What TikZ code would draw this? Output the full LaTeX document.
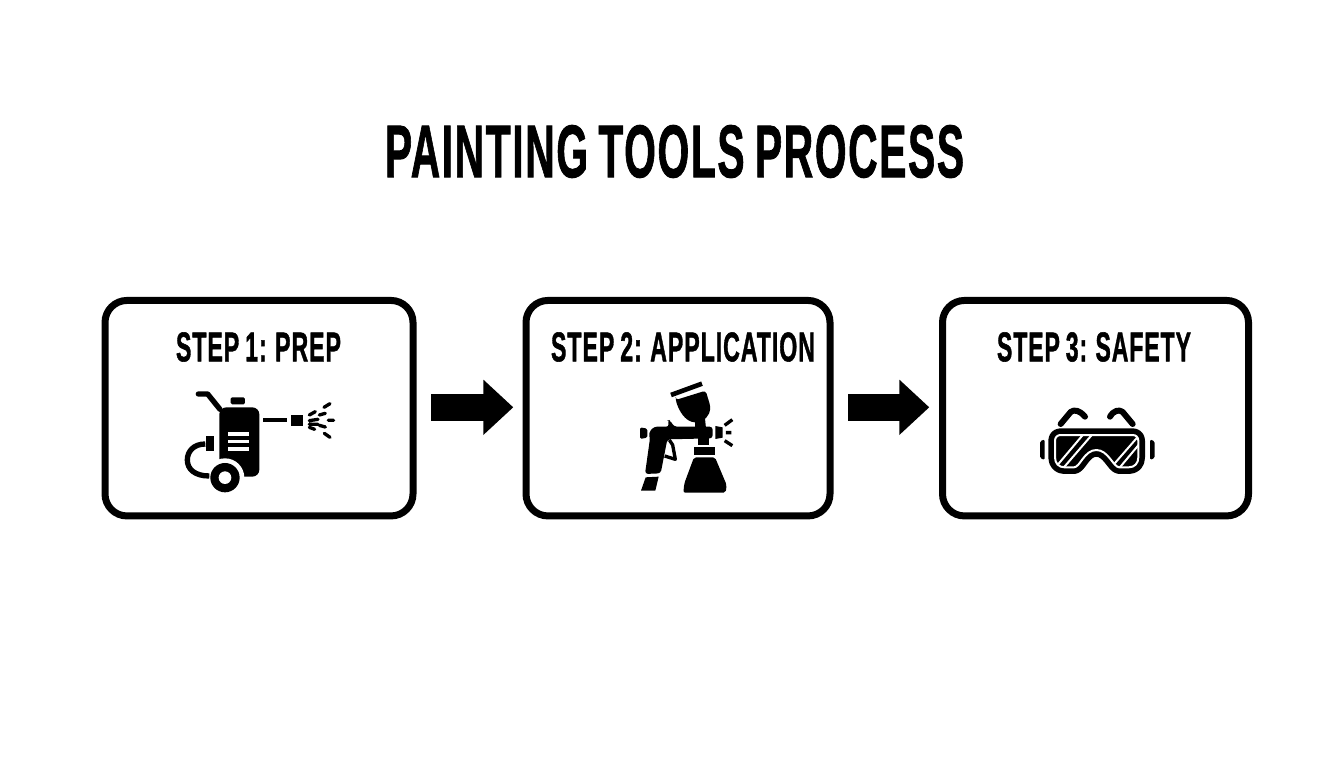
\documentclass[tikz,border=0pt]{standalone}
\usepackage{fontspec}
\usepackage{graphicx}
\setmainfont{Liberation Sans}[BoldFont={Liberation Sans Bold},BoldFeatures={FakeBold=1.4,LetterSpace=4,WordSpace=0.8}]
\usetikzlibrary{arrows.meta,calc}
\tikzset{
  stepbox/.style={draw=black,line width=7pt,rounded corners=22pt,fill=white,inner sep=0pt,outer sep=0pt},
  flowarrow/.style={line width=26.7pt,black,-{Triangle[length=30pt,width=53.5pt]}},
  txt/.style={inner sep=0pt,outer sep=0pt,font=\bfseries},
  ico/.style={x=0.3333pt,y=-0.3333pt},
  gap/.style={fill=white,draw=none}
}
\begin{document}
\begin{tikzpicture}[x=1pt,y=-1pt]
\useasboundingbox (0,0) rectangle (1344,768);
\fill[white] (0,0) rectangle (1344,768);
\node[txt] (title) at (674.5,151.5) {\resizebox{579pt}{52pt}{PAINTING TOOLS PROCESS}};
\node[stepbox,minimum width=308pt,minimum height=215.5pt] (b1) at (259,408.2) {};
\node[stepbox,minimum width=304pt,minimum height=215.5pt] (b2) at (678,408.2) {};
\node[stepbox,minimum width=306pt,minimum height=215.5pt] (b3) at (1095.5,408.2) {};
\node[txt] (l1) at (258.5,347) {\resizebox{165pt}{29pt}{STEP 1: PREP}};
\node[txt] (l2) at (683,347) {\resizebox{264pt}{29pt}{STEP 2: APPLICATION}};
\node[txt] (l3) at (1094,347) {\resizebox{194pt}{29pt}{STEP 3: SAFETY}};
\draw[flowarrow] ($(b1.east)+(18,-0.9)$) -- ($(b2.west)+(-12.7,-0.9)$);
\draw[flowarrow] ($(b2.east)+(18,-0.9)$) -- ($(b3.west)+(-13.2,-0.9)$);
% washer
\begin{scope}[shift={(170,380)},ico]
 \draw[line width=16/3,line cap=round,line join=round] (85,42) -- (113,42) -- (150,88);
 \fill[rounded corners=1.5pt] (182,52) rectangle (225,73);
 \fill[rounded corners=7pt] (148,82) -- (268,82) -- (268,290) -- (148,290) -- cycle;
 \fill[gap] (175,157) rectangle (238,168);
 \fill[gap] (175,179) rectangle (238,190);
 \fill[gap] (175,201) rectangle (238,212);
 \fill[gap] (165,293) circle (58);
 \fill (165,293) circle (44);
 \fill[gap] (165,293) circle (19);
 \fill[gap] (134,150) rectangle (148,230);
 \fill (108,168) rectangle (132,212);
 \draw[line width=16/3,line cap=butt] (106,192) .. controls (70,192) and (52,215) .. (52,240) .. controls (52,268) and (75,288) .. (118,288);
 \fill (278,115) rectangle (352,127);
 \fill (362,105) rectangle (398,138);
 \draw[line width=10/3,line cap=round]
   (418,105) -- (436,95) (418,122) -- (444,118) (418,133) -- (444,133)
   (418,142) -- (434,148) (448,105) -- (466,100) (448,136) -- (466,141)
   (462,82) -- (480,71) (475,121) -- (491,121) (463,160) -- (480,172);
\end{scope}
% spray gun
\begin{scope}[shift={(630,370)},ico]
 \draw[line width=14/3] (123,75) -- (216,41);
 \fill[rounded corners=3pt] (137,90) -- (227,62) -- (241,108) .. controls (240,135) and (222,155) .. (195,158) .. controls (165,150) and (148,125) .. (137,90) -- cycle;
 \fill (195,150) -- (225,145) -- (228,175) -- (195,175) -- cycle;
 \fill[rounded corners=1.5pt] (30,172) -- (52,176) -- (52,203) -- (30,207) -- cycle;
 \fill[rounded corners=3pt] (72,170) -- (118,170) -- (112,152) -- (120,150) -- (132,170) -- (248,170) -- (248,205) -- (112,208) -- (92,310) -- (45,312) -- (60,205) -- (56,188) -- cycle;
 \draw[line width=10/3,line join=round] (118,210) -- (128,225) -- (136,268) -- (104,258);
 \fill (47,322) -- (86,320) -- (76,362) -- (33,362) -- cycle;
 \fill (205,205) -- (238,205) -- (238,226) -- (205,226) -- cycle;
 \fill (256,168) -- (278,172) -- (278,203) -- (256,207) -- cycle;
 \draw[line width=10/3] (284,166) -- (307,149) (288,188) -- (304,188) (284,212) -- (307,227);
 \fill (192,231) rectangle (255,255);
 \fill[rounded corners=2pt] (192,262) -- (255,262) -- (290,345) -- (287,368) -- (160,368) -- (163,340) -- cycle;
\end{scope}
% goggles
\begin{scope}[shift={(1030,400)},ico]
 \def\lens{(92,105) -- (308,105) .. controls (318,105) and (325,112) .. (325,122) -- (325,172) .. controls (325,190) and (314,202) .. (296,202) -- (268,202) .. controls (250,202) and (235,150) .. (199,150) .. controls (163,150) and (150,202) .. (132,202) -- (104,202) .. controls (86,202) and (75,190) .. (75,172) -- (75,122) .. controls (75,112) and (82,105) .. (92,105) -- cycle}
 \draw[line width=18/3,line join=round,line cap=round] (92,72) -- (122,36) .. controls (132,28) and (148,30) .. (165,50);
 \draw[line width=18/3,line join=round,line cap=round] (308,72) -- (278,36) .. controls (268,28) and (252,30) .. (240,50);
 \fill[rounded corners=1.5pt] (30,124) -- (44,118) -- (44,180) -- (30,174) -- cycle;
 \fill[rounded corners=1.5pt] (374,124) -- (360,118) -- (360,180) -- (374,174) -- cycle;
 \draw[black,fill=black,line width=40/3,line join=round] \lens;
 \draw[white,fill=black,line width=6/3,line join=round] \lens;
 \begin{scope}
  \clip \lens;
  \draw[white,line width=6/3] (75,204) -- (160,103) (100,204) -- (187,103) (242,204) -- (330,103) (268,204) -- (345,112);
 \end{scope}
\end{scope}
\end{tikzpicture}
\end{document}
